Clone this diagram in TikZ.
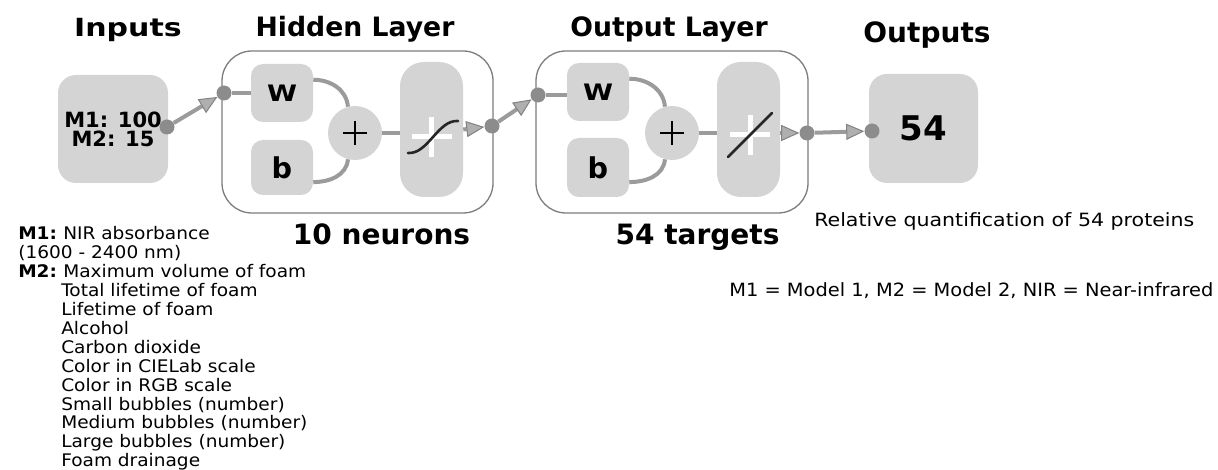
\documentclass[tikz,border=0pt]{standalone}
\usepackage{fontspec}
\usepackage{graphicx}
\setmainfont{DejaVu Sans}
\newfontfamily\legf[FakeStretch=1.07]{DejaVu Sans}
\usetikzlibrary{arrows.meta}
\newdimen\px \px=0.75pt
\definecolor{boxgray}{RGB}{212,212,212}
\definecolor{linegray}{RGB}{155,155,155}
\definecolor{dotgray}{RGB}{140,140,140}
\definecolor{framegray}{RGB}{125,125,125}
\definecolor{tipfill}{RGB}{175,175,175}
\definecolor{tipedge}{RGB}{130,130,130}
\newcommand{\legline}[1]{\hbox{#1}}
\newcommand{\leglab}[1]{\makebox[33.75pt][l]{\bfseries #1}}
\begin{document}
\begin{tikzpicture}[x=0.75pt,y=-0.75pt,
  graybox/.style={fill=boxgray, rounded corners=#1, inner sep=0pt},
  graybox/.default=12\px,
  layer/.style={draw=framegray, line width=1.3\px, fill=white, rounded corners=30\px, inner sep=0pt},
  dot/.style={circle, fill=dotgray, minimum size=15\px, inner sep=0pt},
  conn/.style={draw=linegray, line width=4\px},
  arr/.style={conn, -{Triangle[length=13.5pt, width=12pt, line width=0.75pt, fill=tipfill, color=tipedge]}},
  plusc/.style={circle, fill=boxgray, minimum size=54\px, inner sep=0pt},
  title/.style={anchor=base, inner sep=0pt, font=\bfseries},
  wb/.style={graybox, minimum width=62\px},
  righttext/.style={inner sep=0pt, anchor=base west, font=\fontsize{13.7pt}{15pt}\selectfont},
  legtext/.style={inner sep=0pt, anchor=base west, font=\legf\fontsize{13pt}{14.175pt}\selectfont}
]
\useasboundingbox (0,0) rectangle (1218,470);

% titles
\node[title, font=\bfseries\fontsize{18.75pt}{20pt}\selectfont] (tIn) at (128,37) {\scalebox{1.2}[1]{Inputs}};
\node[title, font=\bfseries\fontsize{20pt}{22pt}\selectfont] (tHid) at (355,37) {Hidden Layer};
\node[title, font=\bfseries\fontsize{20pt}{22pt}\selectfont] (tOutL) at (669,37) {Output Layer};
\node[title, font=\bfseries\fontsize{21pt}{22pt}\selectfont] (tOuts) at (927,43) {Outputs};

% layer frames
\node[layer, minimum width=271\px, minimum height=162\px] (hid) at (357.5,132) {};
\node[layer, minimum width=272\px, minimum height=162\px] (outl) at (672,132) {};

% input box
\node[graybox=18\px, minimum width=110\px, minimum height=108\px, align=center,
      font=\bfseries\fontsize{15.75pt}{14.25pt}\selectfont] (in) at (113,129) {M1: 100\\M2: 15};

% hidden layer content
\node[wb, minimum height=58\px, font=\bfseries\fontsize{17pt}{18pt}\selectfont] (W1) at (282,93) {\scalebox{1.2}[1]{W}};
\node[wb, minimum height=55\px, font=\bfseries\fontsize{21.5pt}{22pt}\selectfont] (b1) at (282,167.5) {b};
\node[plusc] (p1) at (355,133) {};
\node[graybox=24\px, minimum width=63\px, minimum height=135\px] (s1) at (431.5,129.5) {};

% output layer content
\node[wb, minimum height=58\px, font=\bfseries\fontsize{17pt}{18pt}\selectfont] (W2) at (598,92) {\scalebox{1.2}[1]{W}};
\node[wb, minimum height=59\px, font=\bfseries\fontsize{21.5pt}{22pt}\selectfont] (b2) at (598,167.5) {b};
\node[plusc] (p2) at (672,133) {};
\node[graybox=24\px, minimum width=63\px, minimum height=135\px] (l2) at (748.5,129.5) {};

% output box
\node[graybox=18\px, minimum width=109\px, minimum height=109\px,
      font=\bfseries\fontsize{25.5pt}{26pt}\selectfont] (out) at (923.5,128.5) {54};

% dots
\node[dot] (dIn) at (167,127) {};
\node[dot] (dH) at (224,93) {};
\node[dot] (dH2) at (492,126) {};
\node[dot] (dO) at (538,95) {};
\node[dot] (dO2) at (807,133) {};
\node[dot] (dOut) at (872,131) {};

% plus signs
\foreach \p in {p1,p2}{
  \draw[black, line width=2.2\px] ([xshift=-12\px]\p.center) -- ([xshift=12\px]\p.center);
  \draw[black, line width=2.2\px] ([yshift=-12\px]\p.center) -- ([yshift=12\px]\p.center);
}

% transfer function glyphs
\begin{scope}[shift={(s1.center)}]
  \draw[white, line width=5\px] (-20,7.5) -- (20,7.5);
  \draw[white, line width=5\px] (0,-12.5) -- (0,27.5);
  \draw[black!85, line width=2.6\px, line cap=round] (-23.5,23.5) .. controls (-3.5,25) and (6.5,-10) .. (26.5,-8.5);
\end{scope}
\begin{scope}[shift={(l2.center)}]
  \draw[white, line width=5\px] (-18.5,5.5) -- (21.5,5.5);
  \draw[white, line width=5\px] (1.5,-14.5) -- (1.5,25.5);
  \draw[black!85, line width=2.6\px, line cap=round] (-20.5,27.5) -- (23.5,-16.5);
\end{scope}

% connectors
\draw[arr] (dIn) -- (dH);
\draw[conn] (dH) -- (W1.west);
\draw[conn] (W1.23) to[out=0,in=95] (p1.105);
\draw[conn] (b1.-25) to[out=0,in=-95] (p1.-105);
\draw[conn] (p1.east) -- (p1.east -| s1.west);
\draw[arr] (s1.east) -- (dH2);
\draw[arr] (dH2) -- (dO);
\draw[conn] (dO) -- (dO -| W2.west);
\draw[conn] (W2.23) to[out=0,in=95] (p2.105);
\draw[conn] (b2.-25) to[out=0,in=-95] (p2.-105);
\draw[conn] (p2.east) -- (p2.east -| l2.west);
\draw[arr] (l2.east |- dO2) -- (dO2);
\draw[arr] (dO2) -- (dOut);

% captions under layers
\node[title, font=\bfseries\fontsize{21pt}{22pt}\selectfont] (neur) at (381.5,245) {10 neurons};
\node[title, font=\bfseries\fontsize{21pt}{22pt}\selectfont] (targ) at (697.5,245) {54 targets};

% right texts
\node[righttext] (rel) at (814,227) {\scalebox{1.124}[1]{Relative quantification of 54 proteins}};
\node[righttext] (abbr) at (729,297) {\scalebox{1.062}[1]{M1 = Model 1, M2 = Model 2, NIR = Near-infrared}};

% left legend
\node[legtext] (legend) at (18,240) {\vtop{\baselineskip=14.175pt \lineskiplimit=-20pt \lineskip=0pt
\legline{\leglab{M1:}NIR absorbance}
\legline{(1600 - 2400 nm)}
\legline{\leglab{M2:}Maximum volume of foam}
\legline{\hspace*{32.25pt}Total lifetime of foam}
\legline{\hspace*{32.25pt}Lifetime of foam}
\legline{\hspace*{32.25pt}Alcohol}
\legline{\hspace*{32.25pt}Carbon dioxide}
\legline{\hspace*{32.25pt}Color in CIELab scale}
\legline{\hspace*{32.25pt}Color in RGB scale}
\legline{\hspace*{32.25pt}Small bubbles (number)}
\legline{\hspace*{32.25pt}Medium bubbles (number)}
\legline{\hspace*{32.25pt}Large bubbles (number)}
\legline{\hspace*{32.25pt}Foam drainage}}};
\end{tikzpicture}
\end{document}
